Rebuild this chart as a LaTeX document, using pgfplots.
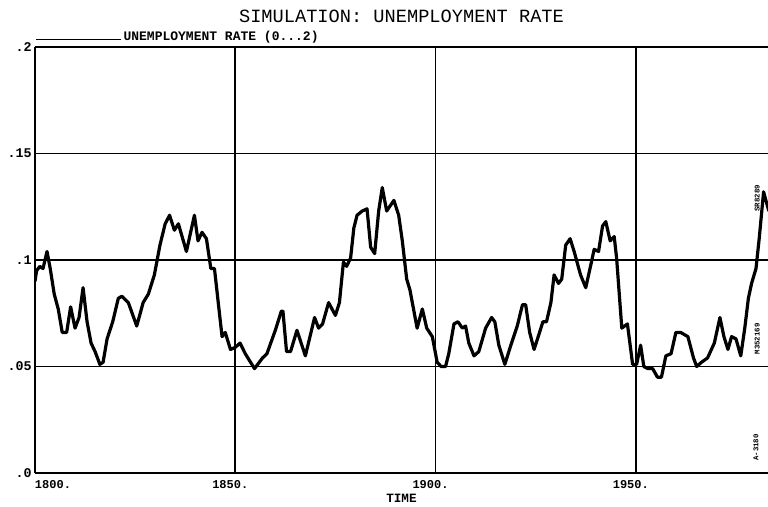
\documentclass[border=0pt]{standalone}
\usepackage{fontspec}
\setmainfont{Liberation Mono}
\usepackage{pgfplots}
\pgfplotsset{compat=1.18}

\pgfplotstableread{
year val
1800.0 0.090
1800.4 0.095
1801.2 0.097
1802.0 0.096
1803.0 0.104
1803.8 0.096
1804.8 0.084
1805.8 0.077
1806.8 0.066
1807.9 0.066
1808.9 0.078
1810.0 0.068
1811.0 0.073
1812.0 0.087
1813.0 0.071
1814.0 0.061
1815.0 0.057
1816.2 0.051
1817.0 0.052
1818.0 0.063
1819.4 0.071
1820.8 0.082
1821.7 0.083
1823.3 0.080
1825.4 0.069
1827.0 0.080
1828.3 0.084
1829.8 0.093
1831.2 0.107
1832.5 0.117
1833.6 0.121
1834.8 0.114
1835.8 0.117
1837.8 0.104
1839.8 0.121
1840.7 0.109
1841.7 0.113
1842.8 0.110
1843.9 0.096
1844.8 0.096
1846.7 0.064
1847.5 0.066
1848.8 0.058
1850.0 0.059
1851.2 0.061
1852.5 0.056
1854.8 0.049
1856.8 0.054
1857.9 0.056
1860.0 0.067
1861.5 0.076
1861.9 0.076
1862.8 0.057
1863.8 0.057
1865.4 0.067
1867.5 0.055
1869.8 0.073
1870.8 0.068
1871.8 0.070
1873.3 0.080
1875.0 0.074
1876.0 0.080
1877.0 0.099
1877.8 0.097
1878.8 0.101
1879.6 0.115
1880.4 0.121
1881.7 0.123
1882.9 0.124
1883.8 0.106
1884.8 0.103
1885.8 0.123
1886.7 0.134
1887.8 0.123
1889.6 0.128
1890.8 0.121
1891.7 0.109
1892.8 0.091
1893.6 0.086
1895.4 0.068
1896.7 0.077
1897.8 0.068
1899.2 0.064
1900.4 0.052
1901.4 0.050
1902.5 0.050
1903.3 0.056
1904.6 0.070
1905.6 0.071
1906.7 0.068
1907.5 0.069
1908.3 0.061
1909.6 0.055
1910.8 0.057
1912.5 0.068
1914.0 0.073
1914.8 0.071
1915.8 0.060
1917.3 0.051
1918.8 0.060
1920.4 0.069
1921.7 0.079
1922.5 0.079
1923.5 0.066
1924.6 0.058
1925.8 0.065
1926.8 0.071
1927.7 0.071
1928.8 0.080
1929.6 0.093
1930.7 0.089
1931.5 0.091
1932.5 0.107
1933.6 0.110
1934.6 0.104
1936.2 0.093
1937.5 0.087
1938.8 0.098
1939.6 0.105
1940.7 0.104
1941.7 0.116
1942.5 0.118
1943.6 0.109
1944.6 0.111
1945.2 0.101
1946.5 0.068
1947.9 0.070
1949.2 0.051
1950.2 0.051
1951.2 0.060
1952.0 0.050
1953.0 0.049
1954.2 0.049
1955.4 0.045
1956.4 0.045
1957.5 0.055
1958.8 0.056
1960.0 0.066
1961.2 0.066
1963.0 0.064
1964.4 0.054
1965.2 0.050
1966.4 0.052
1967.9 0.054
1969.6 0.061
1971.0 0.073
1972.0 0.064
1973.0 0.058
1973.9 0.064
1975.0 0.063
1976.2 0.055
1977.2 0.068
1978.1 0.082
1978.9 0.089
1980.0 0.096
1980.8 0.110
1981.9 0.132
1983.2 0.123
}\unemp

\begin{document}
\begin{tikzpicture}
\begin{axis}[
  scale only axis,
  width=549.75pt, height=319.5pt,
  xmin=1800, xmax=1983, ymin=0, ymax=0.2,
  axis x line*=bottom, axis y line*=left,
  axis line style={line width=1.4pt, black},
  xtick={1800,1850,1900,1950},
  xticklabels={\makebox[0pt][l]{\hspace{3.75pt}1800.},1850.,1900.,1950.},
  ytick={0,0.05,0.1,0.15,0.2},
  yticklabels={.0,.05,.1,.15,.2},
  major tick length=0pt,
  grid=major,
  major grid style={black, line width=1.3pt},
  xticklabel style={font=\bfseries\fontsize{9}{9}\selectfont, inner sep=0pt, anchor=north, yshift=-5.25pt, xshift=-3.75pt},
  yticklabel style={font=\bfseries\fontsize{10}{10}\selectfont, inner sep=0pt, anchor=east, xshift=-2.25pt},
  xlabel={TIME},
  xlabel style={font=\bfseries\fontsize{9.5}{9.5}\selectfont, at={(axis description cs:0.5,0)}, anchor=center, yshift=-18.75pt},
  title={SIMULATION: UNEMPLOYMENT RATE},
  title style={font=\fontsize{14}{14}\selectfont, at={(axis description cs:0.5,1)}, anchor=center, yshift=17pt},
  legend style={draw=none, fill=none, at={(axis description cs:0,1)}, anchor=south west, inner sep=0pt, yshift=2.25pt,
    font=\bfseries\fontsize{9.75}{9.75}\selectfont, nodes={inner sep=1.1pt}},
  legend image code/.code={\draw[black, line width=1.4pt] (0pt,-2.25pt) -- (63.75pt,-2.25pt);},
  clip=true,
]
\addplot[black, line width=2.4pt, line join=round] table[x=year, y=val] {\unemp};
\addlegendentry{UNEMPLOYMENT RATE (0...2)}
\node[rotate=90, font=\bfseries\fontsize{5.5}{5.5}\selectfont] at (axis cs:1980,0.012) {A-3180};
\node[rotate=90, font=\bfseries\fontsize{5.5}{5.5}\selectfont] at (axis cs:1980.3,0.063) {M352169};
\node[rotate=90, font=\bfseries\fontsize{5.5}{5.5}\selectfont] at (axis cs:1980.3,0.129) {SR8289};
\coordinate (bl) at (rel axis cs:0,0);
\coordinate (tr) at (rel axis cs:1,1);
\end{axis}
\pgfresetboundingbox
\path[use as bounding box] ([xshift=-26.25pt,yshift=-25.5pt]bl) rectangle ([yshift=35.25pt]tr);
\end{tikzpicture}
\end{document}
